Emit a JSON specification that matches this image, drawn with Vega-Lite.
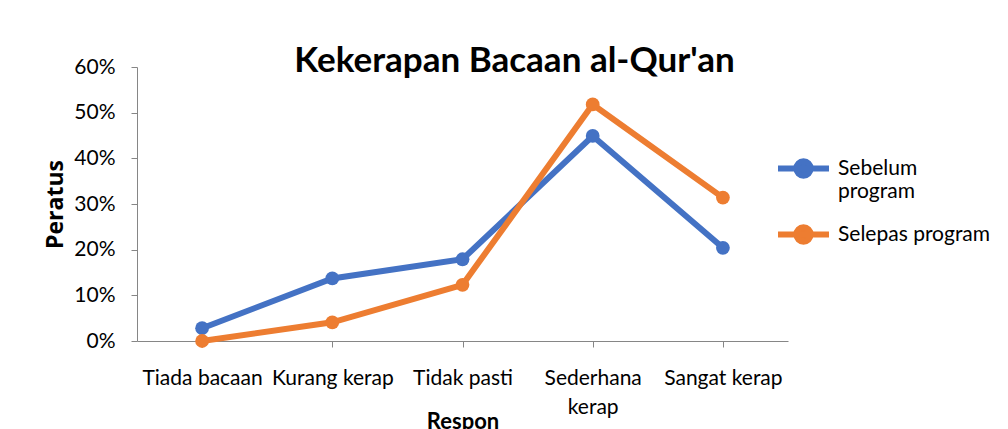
{
  "$schema": "https://vega.github.io/schema/vega-lite/v6.json",
  "width": 651,
  "height": 274,
  "autosize": {"type": "none"},
  "padding": {"left": 137, "top": 67, "right": 220, "bottom": 88},
  "background": "white",
  "title": {
    "text": "Kekerapan Bacaan al-Qur'an",
    "font": "Lato",
    "fontSize": 35,
    "fontWeight": "bold",
    "color": "#000000",
    "anchor": "middle",
    "dx": 52,
    "baseline": "alphabetic",
    "offset": -51
  },
  "data": {
    "values": [
      {"respon": "Tiada bacaan", "siri": "Sebelum program", "nilai": 0.028},
      {"respon": "Kurang kerap", "siri": "Sebelum program", "nilai": 0.137},
      {"respon": "Tidak pasti", "siri": "Sebelum program", "nilai": 0.179},
      {"respon": "Sederhana kerap", "siri": "Sebelum program", "nilai": 0.449},
      {"respon": "Sangat kerap", "siri": "Sebelum program", "nilai": 0.204},
      {"respon": "Tiada bacaan", "siri": "Selepas program", "nilai": 0.0},
      {"respon": "Kurang kerap", "siri": "Selepas program", "nilai": 0.041},
      {"respon": "Tidak pasti", "siri": "Selepas program", "nilai": 0.123},
      {"respon": "Sederhana kerap", "siri": "Selepas program", "nilai": 0.518},
      {"respon": "Sangat kerap", "siri": "Selepas program", "nilai": 0.314}
    ]
  },
  "mark": {"type": "line", "strokeWidth": 6, "point": {"size": 190, "filled": true, "opacity": 1}},
  "encoding": {
    "x": {
      "field": "respon",
      "type": "nominal",
      "sort": ["Tiada bacaan", "Kurang kerap", "Tidak pasti", "Sederhana kerap", "Sangat kerap"],
      "scale": {"type": "point", "padding": 0.5},
      "axis": {
        "title": "Respon",
        "titleFont": "Lato",
        "titleFontSize": 22,
        "titleFontWeight": "bold",
        "titleColor": "#000000",
        "titlePadding": -6,
        "titleBaseline": "top",
        "labelAngle": 0,
        "labelFont": "Lato",
        "labelFontSize": 21,
        "labelColor": "#000000",
        "labelPadding": 20,
        "labelOverlap": false,
        "labelLimit": 200,
        "labelBaseline": "top",
        "labelLineHeight": 29,
        "labelExpr": "datum.label == 'Sederhana kerap' ? ['Sederhana', 'kerap'] : datum.label",
        "tickSize": 6,
        "tickColor": "#868686",
        "domainColor": "#868686",
        "grid": false
      }
    },
    "y": {
      "field": "nilai",
      "type": "quantitative",
      "scale": {"domain": [0, 0.6], "nice": false},
      "axis": {
        "title": "Peratus",
        "titleFont": "Open Sans",
        "titleFontSize": 23,
        "titleFontWeight": "bold",
        "titleColor": "#000000",
        "titlePadding": 6,
        "format": ".0%",
        "values": [0, 0.1, 0.2, 0.3, 0.4, 0.5, 0.6],
        "labelFont": "Lato",
        "labelFontSize": 21,
        "labelColor": "#000000",
        "labelPadding": 16,
        "tickSize": 6,
        "tickColor": "#868686",
        "domainColor": "#868686",
        "grid": false
      }
    },
    "color": {
      "field": "siri",
      "type": "nominal",
      "scale": {"domain": ["Sebelum program", "Selepas program"], "range": ["#4472C4", "#ED7D31"]},
      "legend": {
        "title": null,
        "orient": "none",
        "legendX": 638,
        "legendY": 73,
        "symbolType": "M-1,0H1M-0.28,0A0.28,0.28 0 1,0 0.28,0A0.28,0.28 0 1,0 -0.28,0Z",
        "symbolSize": 2600,
        "symbolStrokeWidth": 6,
        "labelFont": "Lato",
        "labelFontSize": 21,
        "labelColor": "#000000",
        "labelLimit": 300,
        "labelLineHeight": 29,
        "labelExpr": "datum.label == 'Sebelum program' ? ['Sebelum', 'program'] : datum.label",
        "rowPadding": 4,
        "labelOffset": 6
      }
    }
  },
  "config": {"view": {"stroke": null}}
}
